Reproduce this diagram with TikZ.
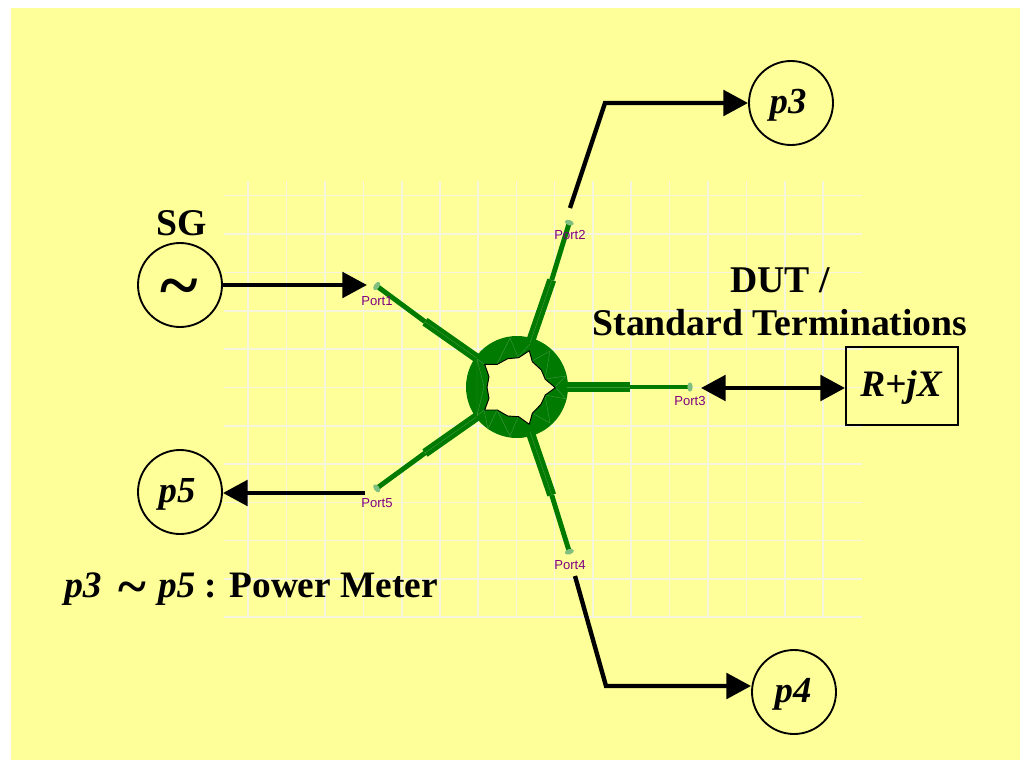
\documentclass[tikz,border=0pt]{standalone}
\usepackage{fontspec}
\setmainfont{Liberation Serif}
\newfontfamily\portfont{Liberation Sans}
\usetikzlibrary{arrows.meta}
\definecolor{bgyellow}{HTML}{FFFF99}
\definecolor{gridc}{HTML}{F6F6DC}
\definecolor{arm}{HTML}{007A00}
\definecolor{mesh}{HTML}{3A963A}
\definecolor{tip}{HTML}{7FBF7F}
\definecolor{portc}{HTML}{800080}
\tikzset{
  px/.style={x=0.75pt,y=-0.75pt},
  gridline/.style={draw=gridc,line width=0.85pt},
  armthin/.style={draw=arm,line width=3.7pt},
  armwide/.style={draw=arm,line width=6.8pt},
  meshline/.style={draw=mesh,line width=0.35pt},
  meter/.style={circle,draw=black,line width=1.4pt,minimum size=63pt,inner sep=0pt},
  meterlabel/.style={font=\fontsize{27.5}{28}\selectfont\bfseries\itshape,inner sep=0pt},
  conn/.style={draw=black,line width=3.3pt,-{Triangle[length=18.5pt,width=19pt]}},
  conn2/.style={draw=black,line width=3.3pt,{Triangle[length=18.5pt,width=19pt]}-{Triangle[length=18.5pt,width=19pt]}},
  portlabel/.style={text=portc,font=\portfont\fontsize{9.8}{10}\selectfont,inner sep=0pt},
  title/.style={font=\fontsize{28.3}{32}\selectfont\bfseries,inner sep=0pt,align=center}
}
\begin{document}
\begin{tikzpicture}[px]
\useasboundingbox (0,0) rectangle (1025,760);
\fill[white] (0,0) rectangle (1025,760);
\fill[bgyellow] (11,8) rectangle (1020,760);
% grid
\foreach \x in {248,286.5,325,363.5,402,440,478,516.5,554.5,593,631,669.5,708,746.5,785,823}
  \draw[gridline] (\x,181) -- (\x,617);
\foreach \y in {195.5,234,272.5,311,349,387.5,426,464,502.5,540.5,579,617}
  \draw[gridline] (224,\y) -- (862,\y);
% ring
\fill[arm,even odd rule] (517,387) circle[radius=51]
  (484.7,364.3) -- (497.3,364.3) -- (507.7,358.7) -- (518.7,357.7) -- (529.3,350.7) -- (532.3,361.7) -- (541.3,370) -- (545.3,379.3) -- (555.3,387.7) -- (545.3,395) -- (541,404.3) -- (532.3,413.3) -- (529.3,424.3) -- (518.7,416.7) -- (507.7,416) -- (497.3,410) -- (484.7,410) -- (489,398.3) -- (487,387.3) -- (489,376.7) -- cycle;
% ring mesh
\draw[meshline] (497,364) -- (510,338) -- (518,357) -- (530,344) (532,361) -- (550,351) -- (545,379) -- (566,376) -- (555,387) -- (566,399) -- (545,395) -- (550,423) -- (532,413) (518,417) -- (510,436) -- (497,410) -- (488,429) -- (484,410);
\draw[meshline] (477,359) -- (484,387) -- (477,416) (477,359) -- (477,416) (484,364) -- (477,359) (484,410) -- (477,416);
\draw[black,line width=0.7pt,line join=round] (484.7,364.3) -- (497.3,364.3) -- (507.7,358.7) -- (518.7,357.7) -- (529.3,350.7) -- (532.3,361.7) -- (541.3,370) -- (545.3,379.3) -- (555.3,387.7) -- (545.3,395) -- (541,404.3) -- (532.3,413.3) -- (529.3,424.3) -- (518.7,416.7) -- (507.7,416) -- (497.3,410) -- (484.7,410) -- (489,398.3) -- (487,387.3) -- (489,376.7) -- cycle;
% arms
\coordinate (c1) at (476.7,358);
\coordinate (s1) at (425,321.7);
\coordinate (t1) at (376.7,286);
\coordinate (c2) at (530,343);
\coordinate (s2) at (551.7,280);
\coordinate (t2) at (569.3,222.7);
\coordinate (c3) at (567,387);
\coordinate (s3) at (630,387);
\coordinate (t3) at (690,387);
\coordinate (c4) at (530,431.7);
\coordinate (s4) at (551.7,495);
\coordinate (t4) at (569.3,551.7);
\coordinate (c5) at (476.7,416.7);
\coordinate (s5) at (425,453);
\coordinate (t5) at (376.7,488.3);
\foreach \i/\r in {1/-36,2/72.5,3/0,4/-72.5,5/36} {
  \draw[armthin] (s\i) -- (t\i);
  \draw[armwide] (c\i) -- (s\i);
  \draw[meshline] (c\i) -- (s\i);
  \fill[tip,shift={(t\i)},rotate=\r] (0,0) ellipse[x radius=2pt,y radius=3.5pt];
}
% port labels
\node[portlabel] (l1) at (377,301) {Port1};
\node[portlabel] (l2) at (570,235) {Port2};
\node[portlabel] (l3) at (690,401) {Port3};
\node[portlabel] (l4) at (570,565) {Port4};
\node[portlabel] (l5) at (377,503) {Port5};
% instruments
\node[meter] (sg) at (180,285) {};
\node[font=\fontsize{54}{54}\selectfont\bfseries,inner sep=0pt] (sgw) at (179,294) {\textasciitilde};
\node[title] (sgt) at (181.5,223) {SG};
\node[meter] (p3) at (791,103) {};
\node[meterlabel] (p3t) at (788,105) {p3};
\node[meter] (p4) at (794,692) {};
\node[meterlabel] (p4t) at (793,694) {p4};
\node[meter] (p5) at (180,492) {};
\node[meterlabel] (p5t) at (177,494) {p5};
\node[draw=black,line width=1.4pt,minimum width=84pt,minimum height=59pt,inner sep=0pt] (rjx) at (902,386) {};
\node[font=\fontsize{28}{28}\selectfont\bfseries\itshape,inner sep=0pt] (rjxt) at (901,388) {R+jX};
\node[title] (dut) at (780,302) {DUT /\\[0pt]Standard Terminations};
\node[anchor=base west,inner sep=0pt,font=\fontsize{28}{32}\selectfont\bfseries] (pm) at (64,597) {\textit{p3}\hspace{13pt}\raisebox{-5.5pt}{\fontsize{40}{30}\selectfont\textasciitilde}\hspace{8.5pt}\textit{p5} : Power Meter};
% connectors
\coordinate (a1) at (367,285);
\coordinate (b2) at (570,208);
\coordinate (k3) at (605,103);
\coordinate (a3) at (701,388);
\coordinate (b4) at (575,576);
\coordinate (k4) at (606,686);
\coordinate (b5) at (365,493);
\draw[conn] (sg.east) ++(-1,0) -- (a1);
\draw[conn,line join=miter] (b2) -- (k3) -- (p3.west);
\draw[conn2] (a3) -- (a3 -| rjx.west);
\draw[conn,line join=miter] (b4) -- (k4) -- (p4.west |- k4);
\draw[conn] (b5) -- (p5.east |- b5);
\end{tikzpicture}
\end{document}
